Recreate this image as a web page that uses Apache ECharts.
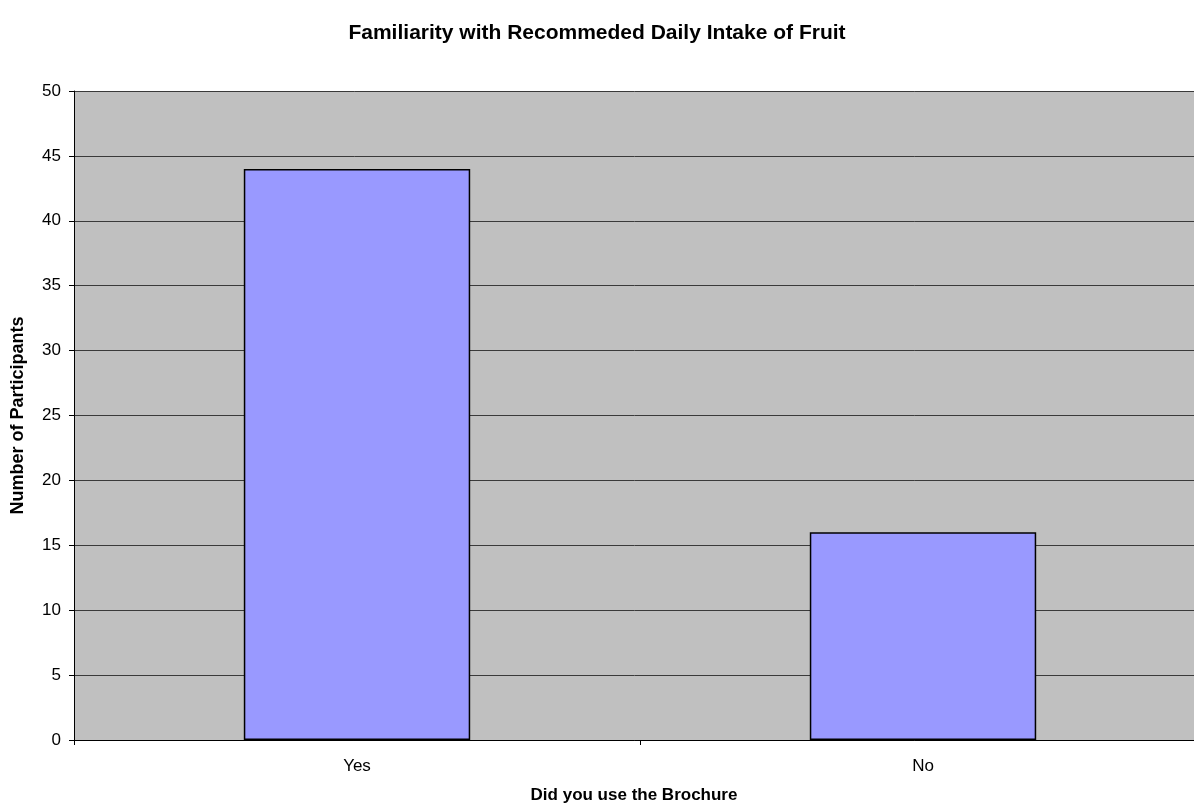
<!DOCTYPE html>
<html>
<head>
<meta charset="utf-8">
<script src="https://cdn.jsdelivr.net/npm/echarts@6/dist/echarts.min.js"></script>
<style>
  html, body { margin: 0; padding: 0; background: #fff; }
  #chart { width: 1194px; height: 806px; }
</style>
</head>
<body>
<div id="chart"></div>
<script>
// data
var categories = ['Yes', 'No']
var participants = [44, 16]

var chart = echarts.init(document.getElementById('chart'))
chart.setOption({
    animation: false,
    textStyle: { fontFamily: 'Liberation Sans, Arial, sans-serif' },
    title: {
        text: 'Familiarity with Recommeded Daily Intake of Fruit',
        left: 'center',
        top: 18,
        textStyle: { fontSize: 21, fontWeight: 'bold', color: '#000' }
    },
    // plot area runs past the right edge of the picture, as in the original
    grid: {
        left: 74,
        right: -12,
        top: 91,
        bottom: 66,
        outerBoundsMode: 'none',
        containLabel: false,
        show: true,
        backgroundColor: '#c0c0c0',
        borderWidth: 0
    },
    xAxis: {
        type: 'category',
        data: categories,
        name: 'Did you use the Brochure',
        nameLocation: 'middle',
        nameGap: 47,
        nameTextStyle: { fontSize: 17, fontWeight: 'bold', color: '#000', padding: [0, 12, 0, 0] },
        axisLine: { lineStyle: { color: '#000', width: 1 } },
        axisTick: { show: true, length: 5, lineStyle: { color: '#000' } },
        axisLabel: { fontSize: 17, color: '#000', margin: 18 }
    },
    yAxis: {
        type: 'value',
        min: 0,
        max: 50,
        interval: 5,
        name: 'Number of Participants',
        nameLocation: 'middle',
        nameGap: 47,
        nameTextStyle: { fontSize: 18, fontWeight: 'bold', color: '#000' },
        axisLine: { show: true, lineStyle: { color: '#000', width: 1 } },
        axisTick: { show: true, length: 5, lineStyle: { color: '#000' } },
        axisLabel: { fontSize: 17, color: '#000', margin: 13 },
        splitLine: { show: true, lineStyle: { color: '#3a3a3a', width: 1 } }
    },
    series: [{
        type: 'bar',
        data: participants,
        barWidth: '40%',
        itemStyle: {
            color: '#9999ff',
            borderColor: '#000',
            borderWidth: 1.5
        }
    }]
})
</script>
</body>
</html>
